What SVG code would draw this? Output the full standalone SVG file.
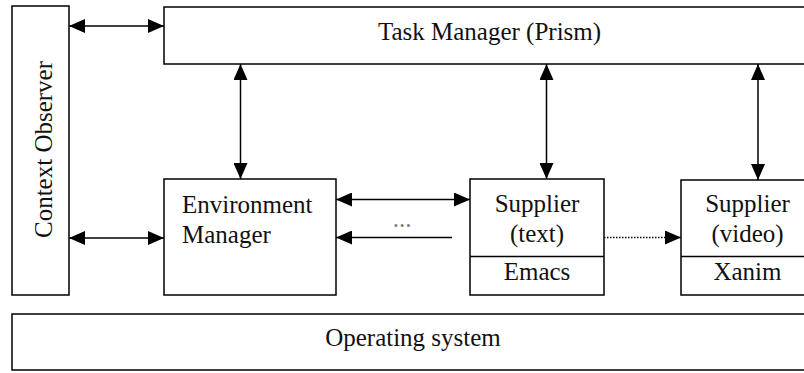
<svg xmlns="http://www.w3.org/2000/svg" width="804" height="373" viewBox="0 0 804 373">
<style>
.box{fill:#fff;stroke:#000;stroke-width:1.5}
.t{font-family:"Liberation Serif","Times New Roman",serif;font-size:25px;fill:#111}
.c{text-anchor:middle}
.ln{stroke:#000;stroke-width:1.5;fill:none}
.dot{stroke-dasharray:1.5 1.5}
</style>
<defs>
<marker id="ah" markerUnits="userSpaceOnUse" markerWidth="16" markerHeight="14" refX="16" refY="7" orient="auto-start-reverse" viewBox="0 0 16 14">
<path d="M0,0 L16,7 L0,14 z" fill="#000"/>
</marker>
</defs>
<rect width="804" height="373" fill="#fff"/>
<g id="context-observer">
<rect class="box" x="12" y="6" width="57" height="289"/>
<text class="t c" transform="translate(51.5,149.5) rotate(-90)">Context Observer</text>
</g>
<g id="task-manager">
<rect class="box" x="164" y="7" width="650" height="57"/>
<text class="t c" x="489.5" y="39.5">Task Manager (Prism)</text>
</g>
<g id="environment-manager">
<rect class="box" x="164" y="179" width="172" height="116"/>
<text class="t" x="182" y="212.5">Environment</text>
<text class="t" x="182" y="242.5">Manager</text>
</g>
<g id="supplier-text">
<rect class="box" x="470" y="179" width="134" height="116"/>
<line class="ln" x1="470" y1="256.5" x2="604" y2="256.5"/>
<text class="t c" x="537" y="211.5">Supplier</text>
<text class="t c" x="537" y="241.5">(text)</text>
<text class="t c" x="537" y="280">Emacs</text>
</g>
<g id="supplier-video">
<rect class="box" x="681" y="180" width="133" height="115"/>
<line class="ln" x1="681" y1="256.5" x2="814" y2="256.5"/>
<text class="t c" x="747.5" y="211.5">Supplier</text>
<text class="t c" x="747.5" y="241.5">(video)</text>
<text class="t c" x="747.5" y="280">Xanim</text>
</g>
<g id="operating-system">
<rect class="box" x="12" y="314" width="802" height="56"/>
<text class="t c" x="413" y="346">Operating system</text>
</g>
<g id="connectors">
<line class="ln" x1="69" y1="26" x2="164" y2="26" marker-start="url(#ah)" marker-end="url(#ah)"/>
<line class="ln" x1="69" y1="238" x2="164" y2="238" marker-start="url(#ah)" marker-end="url(#ah)"/>
<line class="ln" x1="240.5" y1="64" x2="240.5" y2="179" marker-start="url(#ah)" marker-end="url(#ah)"/>
<line class="ln" x1="546.5" y1="64" x2="546.5" y2="179" marker-start="url(#ah)" marker-end="url(#ah)"/>
<line class="ln" x1="758" y1="64" x2="758" y2="180" marker-start="url(#ah)" marker-end="url(#ah)"/>
<line class="ln" x1="336" y1="199.5" x2="470" y2="199.5" marker-start="url(#ah)" marker-end="url(#ah)"/>
<line class="ln" x1="452" y1="237.5" x2="336" y2="237.5" marker-end="url(#ah)"/>
<line class="ln dot" x1="604" y1="237.5" x2="681" y2="237.5" marker-end="url(#ah)"/>
<text class="t c" x="402" y="227" style="fill:#777">...</text>
</g>
</svg>
